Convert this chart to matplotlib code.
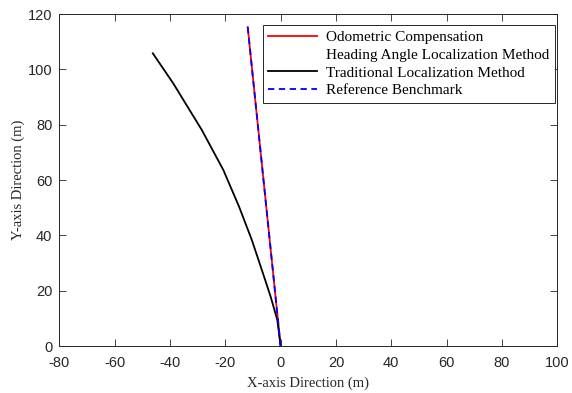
import matplotlib
matplotlib.use("Agg")
import matplotlib.pyplot as plt
import numpy as np
from matplotlib.lines import Line2D

# Data
trad_x = [0.0, -1.2, -3.6, -6.4, -10.4, -15.0, -20.7, -28.5, -38.8, -46.2]
trad_y = [0.0, 9.4, 17.8, 26.3, 38.3, 50.3, 63.6, 78.1, 94.9, 105.8]

odo_x = [0.0, -11.9]
odo_y = [0.0, 115.3]

ref_x = [0.0, -11.9]
ref_y = [0.0, 115.3]

xticks = [-80, -60, -40, -20, 0, 20, 40, 60, 80, 100]
yticks = [0, 20, 40, 60, 80, 100, 120]

fig = plt.figure(figsize=(5.72, 3.93), dpi=100)
ax = fig.add_axes([59.3/572, 47/393, (557.3-59.3)/572, 332/393])

ax.plot(odo_x, odo_y, color='red', lw=1.3, zorder=3)
ax.plot(trad_x, trad_y, color='black', lw=1.3, zorder=3)
ax.plot(ref_x, ref_y, color='blue', lw=1.3, ls=(0, (3.5, 2.5)), zorder=4)

ax.set_xlim(-80, 100)
ax.set_ylim(0, 120)
ax.set_xticks(xticks)
ax.set_yticks(yticks)
ax.set_xticklabels([str(v) for v in xticks], family='Liberation Sans', fontsize=10.5)
ax.set_yticklabels([str(v) for v in yticks], family='Liberation Sans', fontsize=10.5)
ax.tick_params(direction='in', top=True, right=True, length=5, width=0.6, color='#262626', labelcolor='#262626')
ax.tick_params(axis='x', pad=7)
ax.tick_params(axis='y', pad=5)
for s in ax.spines.values():
    s.set_linewidth(0.7)
    s.set_color('#262626')

ax.set_xlabel('X-axis Direction (m)', family='Liberation Serif', fontsize=10.5, labelpad=5, color='#262626')
ax.set_ylabel('Y-axis Direction (m)', family='Liberation Serif', fontsize=10.5, labelpad=2, color='#262626')

handles = [Line2D([], [], color='red', lw=1.3),
           Line2D([], [], color='none', lw=1.3),
           Line2D([], [], color='black', lw=1.3),
           Line2D([], [], color='blue', lw=1.3, ls=(0, (3.5, 2.5)))]
labels = ['Odometric Compensation', 'Heading Angle Localization Method',
          'Traditional Localization Method', 'Reference Benchmark']
leg = fig.legend(handles, labels, loc='upper right', bbox_to_anchor=(555/572, (393-25)/393),
                 prop={'family': 'Liberation Serif', 'size': 11},
                 frameon=True, fancybox=False, edgecolor='#262626', framealpha=1,
                 handlelength=3.2, handletextpad=0.6, labelspacing=0.27,
                 borderpad=0.35, borderaxespad=0)
leg.get_frame().set_linewidth(0.7)

fig.savefig('out.png', dpi=100)
